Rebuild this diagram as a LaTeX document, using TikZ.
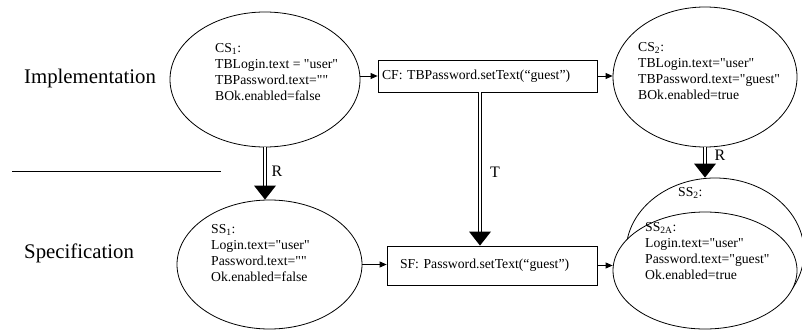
\documentclass[tikz,border=0pt]{standalone}
\usepackage{fontspec}
\setmainfont{Liberation Serif}[Ligatures=TeXOff]
\usetikzlibrary{shapes.geometric,arrows.meta}
\begin{document}
\begin{tikzpicture}[x=1pt,y=-1pt,
  state/.style={ellipse,draw,line width=0.8pt,inner sep=0pt},
  txt/.style={align=left,inner sep=0pt,anchor=west,font=\fontsize{13.7}{16}\selectfont},
  lbl/.style={font=\fontsize{20.8}{24}\selectfont,inner sep=0pt,anchor=west},
  act/.style={rectangle,draw,line width=0.8pt,align=left,inner ysep=0pt,font=\fontsize{13.7}{16}\selectfont},
  flow/.style={-{Triangle[length=7pt,width=6pt]},line width=0.8pt},
  dbl/.style={double,double distance=2.5pt,line width=0.7pt},
  rel/.style={font=\fontsize{16}{18}\selectfont,inner sep=0pt}]
\useasboundingbox (0,0) rectangle (802,331);

% side labels and separator
\node[lbl] (impl) at (24,78) {Implementation};
\node[lbl] (spec) at (24,253) {Specification};
\coordinate (sepa) at (12,171);
\coordinate (sepb) at (221,171);
\draw[line width=0.8pt] (sepa) -- (sepb);

% implementation states
\node[state,minimum width=190pt,minimum height=135pt] (cs1) at (265,79.5) {};
\node[txt] (cs1t) at (215,72) {CS\textsubscript{1}:\\TBLogin.text = "user"\\TBPassword.text=""\\BOk.enabled=false};
\node[state,minimum width=184pt,minimum height=140pt] (cs2) at (705,77) {};
\node[txt] (cs2t) at (638,71) {CS\textsubscript{2}:\\TBLogin.text="user"\\TBPassword.text="guest"\\BOk.enabled=true};
\node[act,minimum height=32pt,text width=211pt,inner xsep=4pt] (cf) at (487.5,76) {CF: TBPassword.setText(“guest”)};

% specification states
\node[state,minimum width=185pt,minimum height=129pt] (ss1) at (269.5,264.5) {};
\node[txt] (ss1t) at (211,253) {SS\textsubscript{1}:\\Login.text="user"\\Password.text=""\\Ok.enabled=false};
\node[state,minimum width=178pt,minimum height=148pt] (ss2) at (715,252) {};
\node[state,fill=white,minimum width=184pt,minimum height=117pt] (ss2a) at (705,270.5) {};
\node[txt] (ss2l) at (678,193) {SS\textsubscript{2}:};
\node[txt] (ss2at) at (645,251) {SS\textsubscript{2A}:\\Login.text="user"\\Password.text="guest"\\Ok.enabled=true};
\node[act,minimum height=39pt,text width=184pt,inner xsep=13pt] (sf) at (492,265.5) {SF: Password.setText(“guest”)};

% transitions
\draw[flow] (cf.west -| cs1.east) -- (cf.west);
\draw[flow] (cf.east) -- (cf.east -| cs2.west);
\draw[flow] (ss1.east) -- (ss1.east -| sf.west);
\draw[flow] (sf.east) -- (sf.east -| ss2a.west);

% refinement / translation arrows
\coordinate (r1tip) at (cs1.south |- ss1.north);
\draw[dbl] (cs1.south) -- ([yshift=13pt]r1tip);
\fill ([xshift=-11pt,yshift=14pt]r1tip) -- ([xshift=11pt,yshift=14pt]r1tip) -- (r1tip) -- cycle;
\node[rel] (r1) at (277,171) {R};

\coordinate (tx) at (480,0);
\coordinate (ttip) at (sf.north -| tx);
\draw[dbl] (cf.south -| tx) -- ([yshift=13pt]ttip);
\fill ([xshift=-11pt,yshift=14pt]ttip) -- ([xshift=11pt,yshift=14pt]ttip) -- (ttip) -- cycle;
\node[rel] (t) at (495,172) {T};

\coordinate (r2tip) at (cs2.south |- ss2.north);
\draw[dbl] (cs2.south) -- ([yshift=13pt]r2tip);
\fill ([xshift=-11pt,yshift=14pt]r2tip) -- ([xshift=11pt,yshift=14pt]r2tip) -- (r2tip) -- cycle;
\node[rel] (r2) at (720,155) {R};
\end{tikzpicture}
\end{document}
